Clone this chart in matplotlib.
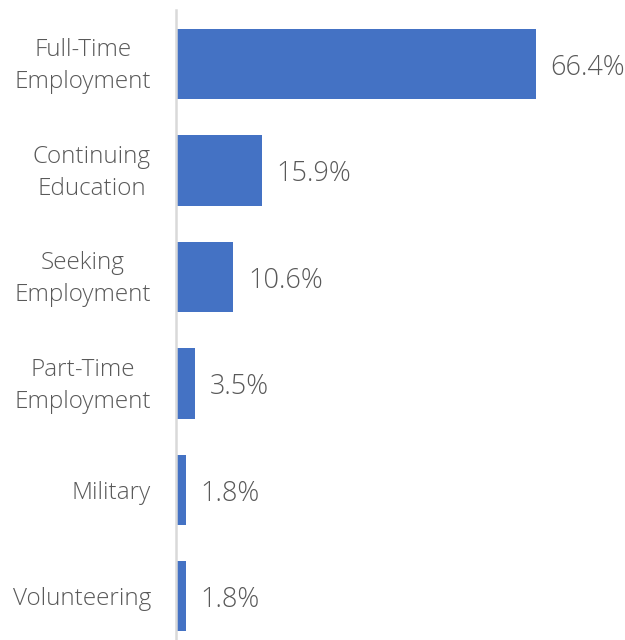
import matplotlib.pyplot as plt
from matplotlib.transforms import ScaledTranslation

# Data
categories = ["Full-Time\nEmployment", "Continuing\nEducation", "Seeking\nEmployment",
              "Part-Time\nEmployment", "Military", "Volunteering"]
values = [66.4, 15.9, 10.6, 3.5, 1.8, 1.8]
value_labels = ["66.4%", "15.9%", "10.6%", "3.5%", "1.8%", "1.8%"]

bar_color = "#4472C4"
text_color = "#595959"
axis_color = "#D9D9D9"

plt.rcParams['font.family'] = ['Open Sans', 'DejaVu Sans']

fig = plt.figure(figsize=(6.25, 6.4), dpi=100)
ax = fig.add_axes([176 / 625, 0.0, 1 - 176 / 625, 630 / 640])

positions = list(range(len(categories)))
ax.barh(positions, values, height=0.66, color=bar_color, zorder=2)

ax.set_xlim(0, 449 / 5.42)
ax.set_ylim(len(categories) - 1 + 0.41, -0.508)

# value labels
for p, v, lab in zip(positions, values, value_labels):
    ax.annotate(lab, xy=(v, p + 0.035), xytext=(10.5, 0), textcoords='offset points',
                ha='left', va='center', fontsize=19.5, color=text_color,
                fontweight='light')

ax.set_yticks(positions)
ax.set_yticklabels(categories, fontsize=17.5, color=text_color,
                   fontweight='light', linespacing=1.45,
                   multialignment='center')
ax.tick_params(axis='y', length=0, pad=18)
ax.set_xticks([])

# nudge the two-line category labels up a little
shift = ScaledTranslation(0, 3.5 / 72, fig.dpi_scale_trans)
for lbl in ax.get_yticklabels():
    if "\n" in lbl.get_text():
        lbl.set_transform(lbl.get_transform() + shift)

for side in ['top', 'right', 'bottom']:
    ax.spines[side].set_visible(False)
ax.spines['left'].set_color(axis_color)
ax.spines['left'].set_linewidth(1.8)

fig.savefig("out.png", dpi=100, facecolor="white")
